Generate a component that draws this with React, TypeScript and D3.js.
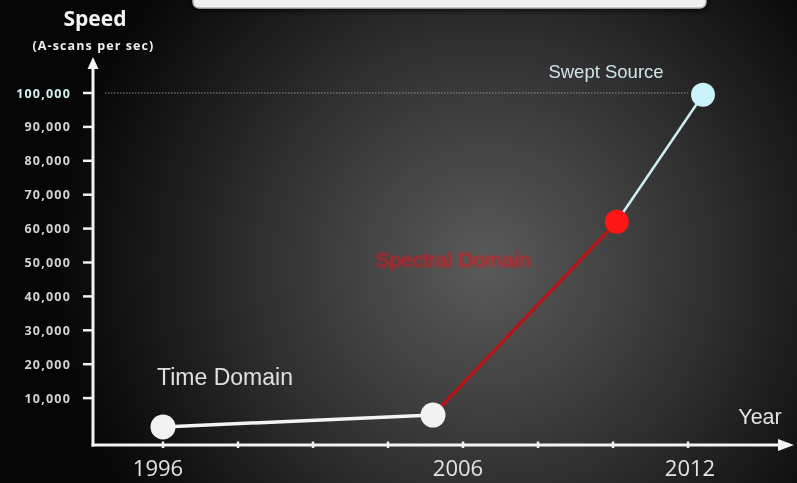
import React from "react";
import * as d3 from "d3";

const W = 797;
const H = 483;

// Milestones: year and axial scan rate (A-scans per second)
const eras = ["Time Domain", "Time Domain", "Spectral Domain", "Swept Source"];
const years = [1996, 2005, 2010.1, 2012.4];
const speeds = [1500, 5000, 62000, 99500];

// Axis ticks
const yTicks = [10000, 20000, 30000, 40000, 50000, 60000, 70000, 80000, 90000, 100000];
const xTickYears = [1996, 1998.5, 2001, 2003.5, 2006, 2008, 2010, 2012];
const xLabelYears = [1996, 2006, 2012];

export default function App() {
  const y = d3.scaleLinear().domain([0, 100000]).range([432, 93]);
  const x = d3.scaleLinear().domain([1996, 2006, 2012]).range([163, 463, 688]);
  const fmt = d3.format(",");

  const axisX = 93;
  const axisY = 445;

  const pts = years.map((yr, i) => ({ x: x(yr), y: y(speeds[i]), era: eras[i] }));
  const line = d3.line<{ x: number; y: number }>().x((d) => d.x).y((d) => d.y);

  const segColors = ["#f4f4f4", "#b3161a", "#cdeff4"];
  const segWidths = [3.5, 3.5, 2.5];
  const dotColors = ["#f2f2f2", "#f2f2f2", "#ff1616", "#c9f3f8"];
  const dotR = [12.5, 12.5, 12, 12];

  const labelFont = "'Open Sans', 'DejaVu Sans', sans-serif";
  const plainFont = "'Liberation Sans', Arial, sans-serif";

  return (
    <svg
      width={W}
      height={H}
      style={{ position: "fixed", left: 0, top: 0, display: "block" }}
    >
      <defs>
        <radialGradient id="bg" gradientUnits="userSpaceOnUse" cx={485} cy={265} r={440}>
          <stop offset="0" stopColor="#5a5a5a" />
          <stop offset="0.45" stopColor="#353535" />
          <stop offset="0.8" stopColor="#151515" />
          <stop offset="1" stopColor="#050505" />
        </radialGradient>
        <filter id="soft" x="-10%" y="-50%" width="120%" height="200%">
          <feGaussianBlur stdDeviation="1.1" />
        </filter>
        <filter id="shadow" x="-5%" y="-100%" width="110%" height="300%">
          <feGaussianBlur stdDeviation="2" />
        </filter>
      </defs>
      <rect width={W} height={H} fill="url(#bg)" />

      {/* title box at top */}
      <rect x={191} y={-12} width={518} height={23} rx={6} fill="#000" opacity={0.6} filter="url(#shadow)" />
      <rect x={193} y={-14} width={513} height={22} rx={6} fill="#efefef" stroke="#b8b8b8" strokeWidth={1.5} />

      {/* axis titles */}
      <text x={95} y={26} textAnchor="middle" fill="#f2f2f2" fontFamily={labelFont} fontWeight="bold" fontSize={21}>
        Speed
      </text>
      <text
        x={93.5}
        y={50}
        textAnchor="middle"
        fill="#eee"
        fontFamily={labelFont}
        fontWeight="bold"
        fontSize={12.5}
        letterSpacing={1.1}
      >
        (A-scans per sec)
      </text>

      {/* reference line at 100,000 */}
      <line x1={105} x2={688} y1={y(100000)} y2={y(100000)} stroke="#aaa" strokeWidth={1} strokeDasharray="1.5,1.5" opacity={0.8} />

      {/* y axis */}
      <line x1={axisX} x2={axisX} y1={axisY + 1.5} y2={66} stroke="#f4f4f4" strokeWidth={3} />
      <path d={`M${axisX - 5.5},69 L${axisX},57 L${axisX + 5.5},69 Z`} fill="#f4f4f4" />
      {yTicks.map((t) => (
        <g key={t}>
          <line x1={83} x2={axisX} y1={y(t)} y2={y(t)} stroke="#f0f0f0" strokeWidth={2.5} />
          <text
            x={71}
            y={y(t) + 4.5}
            textAnchor="end"
            fill={t === 100000 ? "#d6f1ef" : "#d4d4d4"}
            fontFamily={labelFont}
            fontWeight="bold"
            fontSize={12.5}
            letterSpacing={1.2}
          >
            {fmt(t)}
          </text>
        </g>
      ))}

      {/* x axis */}
      <line x1={axisX - 1.5} x2={780} y1={axisY} y2={axisY} stroke="#f4f4f4" strokeWidth={3} />
      <path d={`M778,${axisY - 6} L794,${axisY} L778,${axisY + 6} Z`} fill="#f4f4f4" />
      {xTickYears.map((t) => (
        <line key={t} x1={x(t)} x2={x(t)} y1={axisY - 3.5} y2={axisY + 3} stroke="#f0f0f0" strokeWidth={2.5} />
      ))}
      {xLabelYears.map((t, i) => (
        <text
          key={t}
          x={x(t) + (i === 0 ? -5 : i === 1 ? -5 : 2)}
          y={axisY + 31}
          textAnchor="middle"
          fill="#e4e4e4"
          fontFamily={labelFont}
          fontSize={22}
        >
          {t}
        </text>
      ))}
      <text x={760} y={424} textAnchor="middle" fill="#e4e4e4" fontFamily={plainFont} fontSize={21.5}>
        Year
      </text>

      {/* connecting segments */}
      {pts.slice(1).map((p, i) => (
        <path
          key={i}
          d={line([pts[i], p]) || ""}
          stroke={segColors[i]}
          strokeWidth={segWidths[i]}
          fill="none"
        />
      ))}

      {/* milestones */}
      {pts.map((p, i) => (
        <circle key={i} cx={p.x} cy={p.y} r={dotR[i]} fill={dotColors[i]} />
      ))}

      {/* era labels */}
      <text x={225} y={385} textAnchor="middle" fill="#e0e0e0" fontFamily={plainFont} fontSize={23}>
        {eras[0]}
      </text>
      <text
        x={453}
        y={267}
        textAnchor="middle"
        fill="#e3121a"
        fontFamily={plainFont}
        fontSize={21}
        filter="url(#soft)"
      >
        {eras[2]}
      </text>
      <text x={606} y={78} textAnchor="middle" fill="#cfe6e8" fontFamily={plainFont} fontSize={18.5}>
        {eras[3]}
      </text>
    </svg>
  );
}
